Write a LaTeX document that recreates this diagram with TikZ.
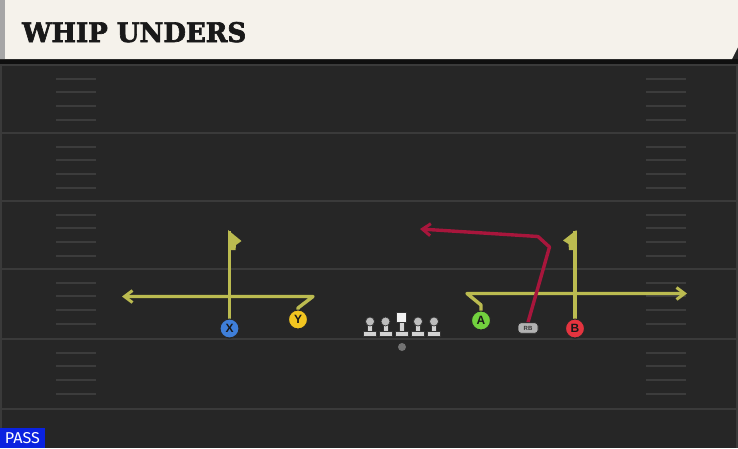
\documentclass[tikz,border=0pt]{standalone}
\usepackage{fontspec}
\usetikzlibrary{arrows.meta}
\newfontfamily\titlefont[BoldFeatures={FakeBold=2.5}]{DejaVu Serif}
\newfontfamily\labelfont{Liberation Sans}
\newfontfamily\passfont{Fira Sans}
\definecolor{fieldbg}{HTML}{262626}
\definecolor{yardline}{HTML}{3A3A3A}
\definecolor{hashc}{HTML}{3C3C3C}
\definecolor{headerbg}{HTML}{F5F2EB}
\definecolor{routey}{HTML}{BBBB50}
\definecolor{router}{HTML}{A8163C}
\definecolor{xblue}{HTML}{3F7FD9}
\definecolor{yyellow}{HTML}{F2C520}
\definecolor{agreen}{HTML}{72D13E}
\definecolor{bred}{HTML}{E4343F}
\definecolor{passblue}{HTML}{0A22E0}
\definecolor{olgray}{HTML}{D2D2D2}
\begin{document}
\begin{tikzpicture}[x=1pt,y=-1pt,
  yard/.style={draw=yardline,line width=2pt},
  hashmark/.style={draw=hashc,line width=1.6pt},
  route/.style={draw=routey,line width=3.4pt,line join=round},
  redroute/.style={draw=router,line width=3.4pt,line join=round},
  tip/.style={-{Straight Barb[length=8pt,width=12pt,line width=3pt]}},
  player/.style={circle,minimum size=19pt,inner sep=0pt,draw=black!85,line width=1pt,
     font=\labelfont\bfseries\fontsize{12}{12}\selectfont,text=black!90},
  rbstyle/.style={rectangle,rounded corners=3pt,minimum width=20pt,minimum height=10.5pt,inner sep=0pt,
     fill=black!30,draw=black!85,line width=0.8pt,
     font=\labelfont\bfseries\fontsize{6}{6}\selectfont,text=black!80},
  olhead/.style={circle,fill=olgray!90!black,draw=black!80,line width=0.7pt,minimum size=9pt,inner sep=0pt},
  olbody/.style={fill=olgray,draw=black!80,line width=0.7pt}
]
\useasboundingbox (0,0) rectangle (738,448);
% field
\fill[fieldbg] (0,0) rectangle (738,448);
\fill[black!60!fieldbg] (0,59) rectangle (738,64);
\draw[yardline,line width=1.5pt] (1,64) -- (1,448);
\draw[yardline,line width=1.5pt] (737,64) -- (737,448);
\foreach \yy in {65,133,201,269,339,409}{
  \draw[yard] (0,\yy) -- (738,\yy);
}
\foreach \yy in {65,133,201,269,339}{
  \foreach \dd in {14,27,41,55}{
    \draw[hashmark] (56,\yy+\dd) -- (96,\yy+\dd);
    \draw[hashmark] (646,\yy+\dd) -- (686,\yy+\dd);
  }
}
% header
\fill[headerbg] (0,0) -- (738,0) -- (738,47) -- (732,59) -- (0,59) -- cycle;
\fill[black!35] (0,0) rectangle (5,59);
\node[anchor=base west,inner sep=0pt,text=black!90] (title) at (22,42)
  {\resizebox{224pt}{20pt}{\titlefont\bfseries WHIP UNDERS}};
% pass tag
\fill[passblue] (0,428) rectangle (45,448);
\node[inner sep=0pt,text=white,anchor=base] (pass) at (22.5,443.3)
  {\resizebox{35pt}{11pt}{\passfont PASS}};
% players
\node[player,fill=xblue] (X) at (229.5,328.5) {X};
\node[player,fill=yyellow] (Y) at (298,319.5) {Y};
\node[player,fill=agreen] (A) at (481,320.5) {A};
\node[player,fill=bred] (B) at (575,328.5) {B};
\node[rbstyle] (RB) at (528,328) {RB};
% route points
\coordinate (xtop) at (229.5,231);
\coordinate (y1) at (298,308);
\coordinate (y2) at (313,296.5);
\coordinate (yend) at (122,296.5);
\coordinate (a1) at (481,305);
\coordinate (a2) at (467,293.5);
\coordinate (aend) at (687,293.5);
\coordinate (btop) at (575,231);
\coordinate (r1) at (549.5,247);
\coordinate (r2) at (538,236.5);
\coordinate (rend) at (420,229);
% routes
\draw[route] (X.north) -- (xtop);
\fill[routey] (228,230) -- (241.5,241) -- (236,245) -- (235.5,250) -- (229.5,250) -- cycle;
\draw[route] (B.north) -- (btop);
\fill[routey] (576.5,230) -- (563,240.5) -- (568.5,244) -- (569,250) -- (575,250) -- cycle;
\draw[route,tip] (Y.north) -- (y1) -- (y2) -- (yend);
\draw[route,tip] (A.north) -- (a1) -- (a2) -- (aend);
\draw[redroute,tip] (RB.north) -- (r1) -- (r2) -- (rend);
% redraw players on top
\node[player,fill=xblue] at (X) {X};
\node[player,fill=bred] at (B) {B};
\node[rbstyle] at (RB) {RB};
% offensive line
\foreach \lx/\nm in {370/LT,385.5/LG,418/RG,434/RT}{
  \draw[olbody] (\lx-6.5,331) rectangle (\lx+6.5,336);
  \draw[olbody] (\lx-2.5,324) rectangle (\lx+2.5,331);
  \node[olhead] (\nm) at (\lx,321.5) {};
}
\draw[olbody] (401.5-6.5,331) rectangle (401.5+6.5,336);
\draw[olbody] (401.5-2.5,322) rectangle (401.5+2.5,331);
\node[rectangle,fill=white!95!black,draw=black!80,line width=0.7pt,minimum size=9.5pt,inner sep=0pt] (C) at (401.5,317.5) {};
\node[circle,fill=black!55,minimum size=8pt,inner sep=0pt] (ball) at (402,347) {};
\end{tikzpicture}
\end{document}
